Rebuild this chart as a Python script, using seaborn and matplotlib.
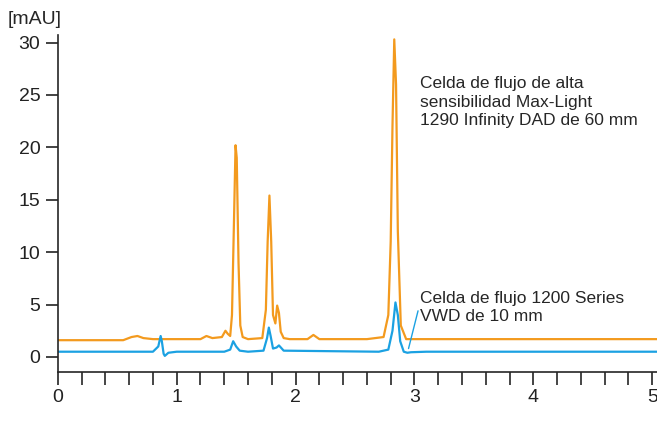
import numpy as np
import matplotlib
matplotlib.use("Agg")
import matplotlib.pyplot as plt
import seaborn as sns

# orange trace: Max-Light 60 mm cell
t_orange = [0.0, 0.55, 0.62, 0.67, 0.72, 0.8, 1.2, 1.25, 1.3, 1.38, 1.41, 1.43, 1.45,
            1.465, 1.48, 1.495, 1.505, 1.52, 1.535, 1.555, 1.6, 1.72, 1.75, 1.765, 1.78, 1.795,
            1.81, 1.83, 1.845, 1.86, 1.875, 1.9, 1.95, 2.1, 2.15, 2.2, 2.6, 2.74,
            2.78, 2.8, 2.815, 2.83, 2.845, 2.86, 2.885, 2.93, 3.2, 5.05]
y_orange = [1.6, 1.6, 1.9, 2.0, 1.8, 1.7, 1.7, 2.0, 1.8, 1.9, 2.5, 2.2, 2.0,
            4.0, 12.0, 20.2, 19.0, 9.0, 3.0, 1.9, 1.7, 1.8, 4.5, 11.0, 15.4, 11.0,
            4.0, 3.2, 4.9, 4.2, 2.4, 1.8, 1.7, 1.7, 2.1, 1.7, 1.7, 1.9,
            4.0, 11.0, 22.0, 30.3, 26.0, 12.0, 3.0, 1.7, 1.7, 1.7]

# blue trace: 1200 Series VWD 10 mm cell
t_blue = [0.0, 0.8, 0.845, 0.865, 0.875, 0.89, 0.9, 0.93, 1.0, 1.4, 1.45, 1.475,
          1.5, 1.53, 1.6, 1.73, 1.76, 1.775, 1.79, 1.81, 1.84, 1.86, 1.9, 2.7,
          2.78, 2.815, 2.84, 2.86, 2.88, 2.91, 2.94, 2.97, 3.1, 5.05]
y_blue = [0.5, 0.5, 1.0, 2.0, 1.5, 0.3, 0.1, 0.4, 0.5, 0.5, 0.7, 1.5,
          1.0, 0.6, 0.5, 0.6, 1.8, 2.8, 2.0, 0.8, 0.9, 1.1, 0.6, 0.5,
          0.7, 2.5, 5.2, 4.0, 1.5, 0.5, 0.4, 0.45, 0.5, 0.5]

sns.set_style("ticks")
plt.rcParams['font.family'] = ['Liberation Sans', 'DejaVu Sans']

fig = plt.figure(figsize=(6.57, 4.29), dpi=100)
ax = fig.add_axes([0.088, 0.133, 0.912, 0.785])
sns.lineplot(x=t_orange, y=y_orange, color='#F39A1E', lw=1.6, ax=ax)
sns.lineplot(x=t_blue, y=y_blue, color='#1BA1E2', lw=1.6, ax=ax)

ax.set_xlim(0, 5.04)
ax.set_ylim(-1.43, 30.7)
ax.set_yticks([0, 5, 10, 15, 20, 25, 30])
ax.set_xticks([0, 1, 2, 3, 4, 5])
ax.set_xticks(np.arange(0, 5.01, 0.2), minor=True)
ax.tick_params(axis='both', labelsize=14, length=9, width=1.2, colors='#222222')
ax.tick_params(axis='x', which='minor', length=9, width=1.2)
for s in ['top', 'right']:
    ax.spines[s].set_visible(False)
for s in ['left', 'bottom']:
    ax.spines[s].set_linewidth(1.2)

fig.text(0.012, 0.955, '[mAU]', fontsize=14, ha='left', va='center')
ax.text(3.05, 24.3, 'Celda de flujo de alta\nsensibilidad Max-Light\n1290 Infinity DAD de 60 mm',
        fontsize=12.5, ha='left', va='center', linespacing=1.3)
ax.text(3.05, 4.7, 'Celda de flujo 1200 Series\nVWD de 10 mm',
        fontsize=12.5, ha='left', va='center', linespacing=1.3)
ax.plot([3.03, 2.95], [4.4, 0.8], color='#1BA1E2', lw=1)

fig.savefig('out.png', dpi=100)
